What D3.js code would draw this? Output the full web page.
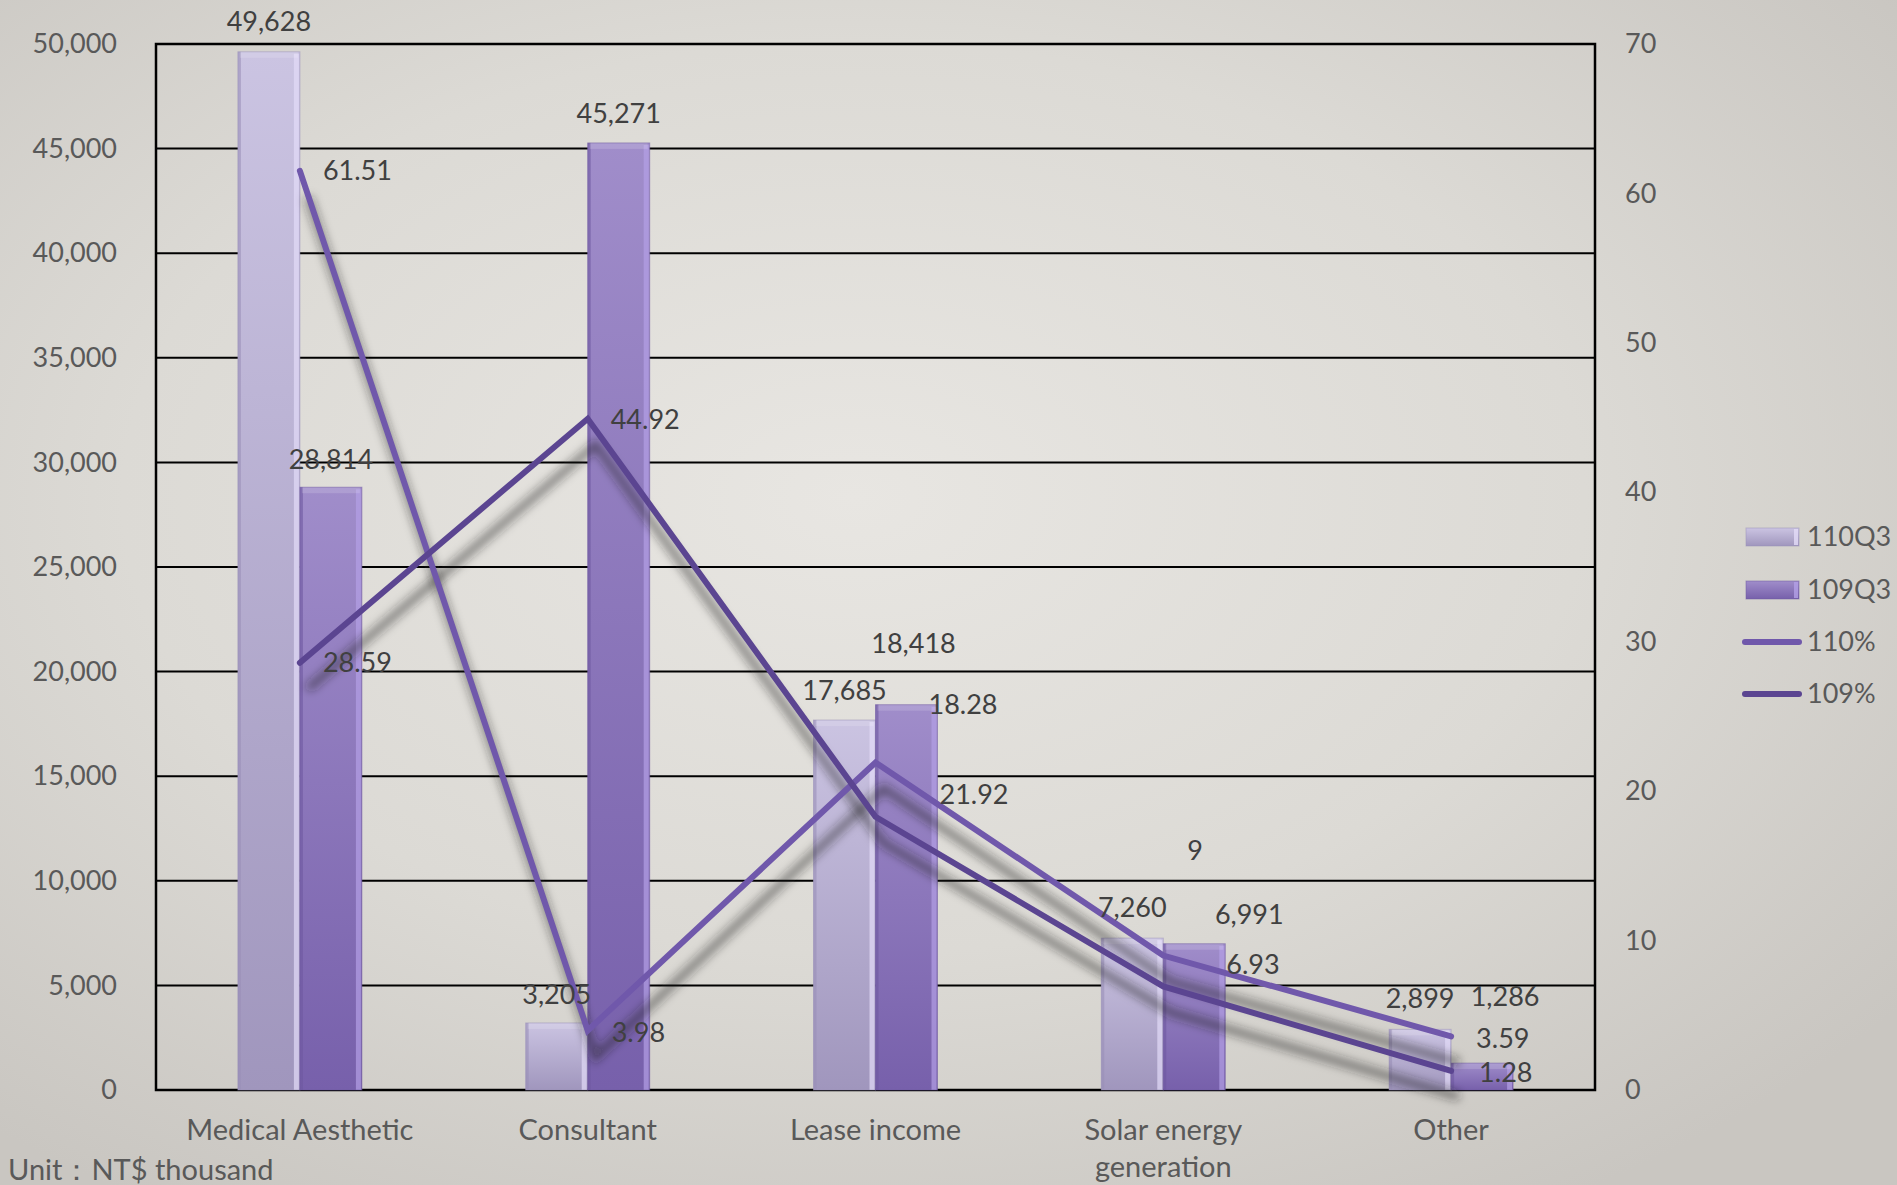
<!DOCTYPE html>
<html><head><meta charset="utf-8">
<script src="https://cdn.jsdelivr.net/npm/d3@7"></script>
<style>
html,body{margin:0;padding:0;overflow:hidden;background:#d6d3ce;}
svg{display:block;font-family:Lato,"Open Sans","DejaVu Sans",sans-serif;}
</style>
</head><body>
<svg id="chart" width="1897" height="1185"></svg>
<script>
// ---------- data ----------
const categories = ["Medical Aesthetic", "Consultant", "Lease income", "Solar energy generation", "Other"];
const barSeries = ["110Q3", "109Q3"];
const values110Q3 = [49628, 3205, 17685, 7260, 2899];
const values109Q3 = [28814, 45271, 18418, 6991, 1286];
const lineSeries = ["110%", "109%"];
const pct110 = [61.51, 3.98, 21.92, 9, 3.59];
const pct109 = [28.59, 44.92, 18.28, 6.93, 1.28];
const leftTicks = [0, 5000, 10000, 15000, 20000, 25000, 30000, 35000, 40000, 45000, 50000];
const rightTicks = [0, 10, 20, 30, 40, 50, 60, 70];
const unitText = "Unit：NT$ thousand";

// label nudges (manual label placement in the original)
const barLabelNudge110 = [[0, -30], [0, -28], [0, -29], [0, -31], [0, -31]];
const barLabelNudge109 = [[0, -28], [0, -29], [7, -61], [55, -29], [23, -67]];
const lineLabelNudge110 = [[23, 0], [24, 2], [64, 32], [24, -105], [25, 2]];
const lineLabelNudge109 = [[23, 0], [23, 1], [53, -112], [63, -22], [28, 2]];

// ---------- layout ----------
const W = 1897, H = 1185;
const plot = {left: 156, right: 1595, top: 44, bottom: 1090};
const svg = d3.select("#chart");
const defs = svg.append("defs");

// background
const bg = defs.append("radialGradient").attr("id", "bg")
  .attr("cx", "45%").attr("cy", "42%").attr("r", "70%");
bg.append("stop").attr("offset", "0%").attr("stop-color", "#e8e6e2");
bg.append("stop").attr("offset", "55%").attr("stop-color", "#dcdad5");
bg.append("stop").attr("offset", "100%").attr("stop-color", "#c9c6c1");
svg.append("rect").attr("width", W).attr("height", H).attr("fill", "url(#bg)");

const barColors = {
  "110Q3": {top: "#cbc4e2", bottom: "#a096bd", hi: "#e3dcf8", lo: "#9a90b8"},
  "109Q3": {top: "#a08dca", bottom: "#7760ab", hi: "#b3a0e6", lo: "#6e58a0"}
};
barSeries.forEach((s, i) => {
  const g = defs.append("linearGradient").attr("id", "bar" + i)
    .attr("x1", 0).attr("y1", 0).attr("x2", 0).attr("y2", 1);
  g.append("stop").attr("offset", "0%").attr("stop-color", barColors[s].top);
  g.append("stop").attr("offset", "100%").attr("stop-color", barColors[s].bottom);
});
defs.append("filter").attr("id", "blur").attr("x", "-20%").attr("y", "-20%")
  .attr("width", "140%").attr("height", "140%")
  .append("feGaussianBlur").attr("stdDeviation", 5);

const lineColors = {"110%": "#7058ab", "109%": "#5b4591"};

// scales
const x0 = d3.scaleBand().domain(categories).range([plot.left, plot.right]).padding(0);
const bw = x0.bandwidth();
const barW = 62;
const x1 = d3.scaleBand().domain(barSeries).range([bw / 2 - barW, bw / 2 + barW]).padding(0);
const yL = d3.scaleLinear().domain([0, 50000]).range([plot.bottom, plot.top]);
const yR = d3.scaleLinear().domain([0, 70]).range([plot.bottom, plot.top]);
const cx = c => x0(c) + bw / 2;

// gridlines
svg.append("g").selectAll("line").data(leftTicks).join("line")
  .attr("x1", plot.left).attr("x2", plot.right)
  .attr("y1", d => yL(d)).attr("y2", d => yL(d))
  .attr("stroke", "#000").attr("stroke-width", 2);
// plot border
svg.append("rect").attr("x", plot.left).attr("y", plot.top)
  .attr("width", plot.right - plot.left).attr("height", plot.bottom - plot.top)
  .attr("fill", "none").attr("stroke", "#000").attr("stroke-width", 2.5);

// axes (labels only)
const axL = svg.append("g").attr("transform", `translate(${plot.left},0)`)
  .call(d3.axisLeft(yL).tickValues(leftTicks).tickFormat(d3.format(",")).tickSize(0).tickPadding(39));
const axR = svg.append("g").attr("transform", `translate(${plot.right},0)`)
  .call(d3.axisRight(yR).tickValues(rightTicks).tickFormat(d3.format("d")).tickSize(0).tickPadding(30));
[axL, axR].forEach(a => {
  a.select(".domain").remove();
  a.selectAll("text").attr("font-size", 27).attr("fill", "#595959")
    .attr("font-family", "Lato,'Open Sans',sans-serif");
});

// x category labels
const xl = svg.append("g");
categories.forEach(c => {
  const t = xl.append("text").attr("x", cx(c)).attr("y", plot.bottom + 50)
    .attr("text-anchor", "middle").attr("font-size", 29).attr("fill", "#595959");
  t.text(c);
  if (t.node().getComputedTextLength() > 260) {
    const words = c.split(" ");
    t.text(null);
    const l1 = words.slice(0, 2).join(" "), l2 = words.slice(2).join(" ");
    t.append("tspan").attr("x", cx(c)).attr("dy", 0).text(l1);
    t.append("tspan").attr("x", cx(c)).attr("dy", 37).text(l2);
  }
});

// bars
const barData = [values110Q3, values109Q3];
barSeries.forEach((s, si) => {
  const g = svg.append("g");
  categories.forEach((c, ci) => {
    const v = barData[si][ci];
    const x = x0(c) + x1(s), w = x1.bandwidth(), y = yL(v), h = yL(0) - yL(v);
    g.append("rect").attr("x", x).attr("y", y).attr("width", w).attr("height", h)
      .attr("fill", `url(#bar${si})`);
    // bevel
    g.append("rect").attr("x", x).attr("y", y).attr("width", 3).attr("height", h)
      .attr("fill", barColors[s].lo).attr("opacity", 0.6);
    g.append("rect").attr("x", x + w - 6).attr("y", y + 2).attr("width", 5).attr("height", Math.max(0, h - 2))
      .attr("fill", barColors[s].hi).attr("opacity", 0.7);
    g.append("rect").attr("x", x + 2).attr("y", y).attr("width", w - 4).attr("height", Math.min(6, h))
      .attr("fill", "#ffffff").attr("opacity", 0.15);
    g.append("rect").attr("x", x).attr("y", y).attr("width", w).attr("height", h)
      .attr("fill", "none").attr("stroke", barColors[s].lo).attr("stroke-opacity", 0.5).attr("stroke-width", 1);
  });
});

// lines
const lineData = [pct110, pct109];
const lineGen = d3.line().x((d, i) => cx(categories[i])).y(d => yR(d));
lineSeries.forEach((s, si) => {
  svg.append("path").datum(lineData[si]).attr("d", lineGen)
    .attr("fill", "none").attr("stroke", "#222").attr("stroke-opacity", 0.5)
    .attr("stroke-width", 8).attr("filter", "url(#blur)")
    .attr("transform", "translate(8,26)");
});
lineSeries.forEach((s, si) => {
  svg.append("path").datum(lineData[si]).attr("d", lineGen)
    .attr("fill", "none").attr("stroke", lineColors[s])
    .attr("stroke-width", 6).attr("stroke-linecap", "round").attr("stroke-linejoin", "miter");
});

// bar labels
const barNudges = [barLabelNudge110, barLabelNudge109];
const fmt = d3.format(",");
barSeries.forEach((s, si) => {
  categories.forEach((c, ci) => {
    const v = barData[si][ci];
    const n = barNudges[si][ci];
    svg.append("text").attr("x", x0(c) + x1(s) + x1.bandwidth() / 2 + n[0])
      .attr("y", yL(v) + n[1]).attr("dy", "0.35em")
      .attr("text-anchor", "middle").attr("font-size", 27).attr("fill", "#404040")
      .text(fmt(v));
  });
});
// line labels
const lineNudges = [lineLabelNudge110, lineLabelNudge109];
lineSeries.forEach((s, si) => {
  categories.forEach((c, ci) => {
    const v = lineData[si][ci];
    const n = lineNudges[si][ci];
    svg.append("text").attr("x", cx(c) + n[0]).attr("y", yR(v) + n[1]).attr("dy", "0.35em")
      .attr("text-anchor", "start").attr("font-size", 27).attr("fill", "#404040")
      .text(String(v));
  });
});

// legend
const leg = svg.append("g");
const legY = [537, 590, 642, 694];
barSeries.forEach((s, i) => {
  const y = legY[i];
  leg.append("rect").attr("x", 1746).attr("y", y - 9).attr("width", 53).attr("height", 18)
    .attr("fill", `url(#bar${i})`);
  leg.append("rect").attr("x", 1794).attr("y", y - 8).attr("width", 4).attr("height", 16)
    .attr("fill", barColors[s].hi).attr("opacity", 0.8);
  leg.append("rect").attr("x", 1746).attr("y", y - 9).attr("width", 53).attr("height", 18)
    .attr("fill", "none").attr("stroke", barColors[s].lo).attr("stroke-opacity", 0.5);
  leg.append("text").attr("x", 1807).attr("y", y).attr("dy", "0.35em")
    .attr("font-size", 27).attr("fill", "#595959").text(s);
});
lineSeries.forEach((s, i) => {
  const y = legY[i + 2];
  leg.append("line").attr("x1", 1745).attr("x2", 1799).attr("y1", y).attr("y2", y)
    .attr("stroke", lineColors[s]).attr("stroke-width", 6).attr("stroke-linecap", "round");
  leg.append("text").attr("x", 1807).attr("y", y).attr("dy", "0.35em")
    .attr("font-size", 27).attr("fill", "#595959").text(s);
});

// unit
svg.append("text").attr("x", 8).attr("y", 1180).attr("font-size", 29).attr("fill", "#595959").text(unitText);
</script>
</body></html>
